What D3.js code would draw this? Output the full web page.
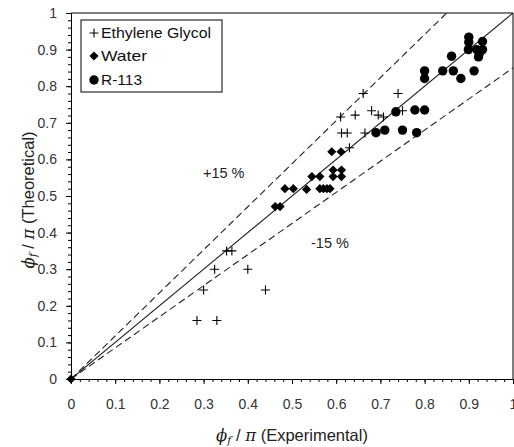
<!DOCTYPE html>
<html>
<head>
<meta charset="utf-8">
<script src="https://cdn.jsdelivr.net/npm/d3@7"></script>
<style>
  body { margin: 0; background: #fff; }
  svg { display: block; font-family: "Liberation Sans", Arial, sans-serif; }
</style>
</head>
<body>
<svg id="chart" width="514" height="447"></svg>
<script>
// ---- data ----
const egX = [0.285, 0.33, 0.30, 0.44, 0.325, 0.40, 0.352, 0.364, 0.63, 0.612, 0.625, 0.665, 0.61, 0.643, 0.68, 0.695, 0.707, 0.75, 0.661, 0.74];
const egY = [0.16, 0.16, 0.243, 0.243, 0.30, 0.30, 0.35, 0.35, 0.632, 0.672, 0.672, 0.672, 0.716, 0.721, 0.733, 0.721, 0.716, 0.733, 0.78, 0.78];

const waterX = [0, 0.462, 0.473, 0.484, 0.503, 0.533, 0.545, 0.563, 0.563, 0.571, 0.579, 0.586, 0.593, 0.612, 0.593, 0.612, 0.59, 0.611];
const waterY = [0, 0.471, 0.471, 0.52, 0.52, 0.518, 0.553, 0.553, 0.52, 0.52, 0.52, 0.52, 0.571, 0.571, 0.553, 0.553, 0.621, 0.621];

const r113X = [0.69, 0.71, 0.735, 0.75, 0.778, 0.80, 0.782, 0.80, 0.80, 0.841, 0.865, 0.882, 0.861, 0.912, 0.90, 0.90, 0.931, 0.899, 0.918, 0.931, 0.924, 0.922];
const r113Y = [0.673, 0.68, 0.73, 0.68, 0.735, 0.735, 0.673, 0.821, 0.842, 0.842, 0.842, 0.821, 0.882, 0.842, 0.934, 0.92, 0.922, 0.90, 0.90, 0.90, 0.89, 0.88];

const tickValues = [0, 0.1, 0.2, 0.3, 0.4, 0.5, 0.6, 0.7, 0.8, 0.9, 1];
const refSlopes = [1, 1 / 0.85, 0.85];   // y = x, +15 %, -15 %
const legendLabels = ["Ethylene Glycol", "Water", "R-113"];

// ---- layout ----
const svg = d3.select("#chart");
const L = 71, R = 513, T = 13, B = 379;
const x = d3.scaleLinear().domain([0, 1]).range([L, R]);
const y = d3.scaleLinear().domain([0, 1]).range([B, T]);

svg.append("clipPath").attr("id", "clip").append("rect")
  .attr("x", L).attr("y", T).attr("width", R - L).attr("height", B - T);

// reference lines
const lineG = svg.append("g").attr("clip-path", "url(#clip)");
refSlopes.forEach((s, i) => {
  const xe = Math.min(1, 1 / s);
  lineG.append("line")
    .attr("x1", x(0)).attr("y1", y(0))
    .attr("x2", x(xe)).attr("y2", y(xe * s))
    .attr("stroke", "#222")
    .attr("stroke-width", 1.1)
    .attr("stroke-dasharray", i === 0 ? null : "7,4");
});

// frame (top & right)
svg.append("path")
  .attr("d", `M${L},${T}H${R}V${B}`)
  .attr("fill", "none").attr("stroke", "#000").attr("stroke-width", 1);

// minor ticks
const minor = d3.range(0, 1.0001, 0.02);
svg.append("g").attr("transform", `translate(0,${B})`)
  .call(d3.axisBottom(x).tickValues(minor).tickSize(3).tickFormat(""));
svg.append("g").attr("transform", `translate(${L},0)`)
  .call(d3.axisLeft(y).tickValues(minor).tickSize(3).tickFormat(""));

// major ticks + labels
const fmt = d => d === 0 ? "0" : d === 1 ? "1" : d3.format(".1f")(d);
const gx = svg.append("g").attr("transform", `translate(0,${B})`)
  .call(d3.axisBottom(x).tickValues(tickValues).tickSize(5).tickPadding(15).tickFormat(fmt));
const gy = svg.append("g").attr("transform", `translate(${L},0)`)
  .call(d3.axisLeft(y).tickValues(tickValues).tickSize(5).tickPadding(9).tickFormat(fmt));
[gx, gy].forEach(g => {
  g.selectAll("text").attr("font-size", 14).attr("fill", "#333")
    .attr("font-family", "'Liberation Sans', Arial, sans-serif");
  g.select(".domain").attr("stroke", "#000");
});
svg.selectAll(".tick line").attr("stroke", "#000");

// markers
const plusPath = (s) => `M${-s},0H${s}M0,${-s}V${s}`;
const ptsG = svg.append("g");
const eg = egX.map((v, i) => [v, egY[i]]);
const wa = waterX.map((v, i) => [v, waterY[i]]);
const rr = r113X.map((v, i) => [v, r113Y[i]]);

ptsG.selectAll(".eg").data(eg).join("path")
  .attr("transform", d => `translate(${x(d[0])},${y(d[1])})`)
  .attr("d", plusPath(4.5)).attr("stroke", "#000").attr("stroke-width", 1.1).attr("fill", "none");

const diamond = d3.symbol().type(d3.symbolSquare).size(42)();
ptsG.selectAll(".wa").data(wa).join("path")
  .attr("transform", d => `translate(${x(d[0])},${y(d[1])}) rotate(45)`)
  .attr("d", diamond).attr("fill", "#000");

ptsG.selectAll(".rr").data(rr).join("circle")
  .attr("cx", d => x(d[0])).attr("cy", d => y(d[1])).attr("r", 4.7).attr("fill", "#000");

// percent labels
svg.append("text").attr("x", 203).attr("y", 178).attr("font-size", 14.5).attr("fill", "#222").text("+15 %");
svg.append("text").attr("x", 311).attr("y", 248).attr("font-size", 14.5).attr("fill", "#222").text("-15 %");

// legend
const lg = svg.append("g");
lg.append("rect").attr("x", 81).attr("y", 20).attr("width", 141).attr("height", 72)
  .attr("fill", "#fff").attr("stroke", "#000").attr("stroke-width", 1);
const ly = [33, 56, 80];
lg.append("path").attr("transform", `translate(94,${ly[0]})`).attr("d", plusPath(4.5))
  .attr("stroke", "#000").attr("stroke-width", 1.1);
lg.append("path").attr("transform", `translate(94,${ly[1]}) rotate(45)`).attr("d", diamond).attr("fill", "#000");
lg.append("circle").attr("cx", 94).attr("cy", ly[2]).attr("r", 4.7).attr("fill", "#000");
const legLen = [110, 46, 41];
legendLabels.forEach((t, i) => {
  lg.append("text").attr("x", 101).attr("y", ly[i] + 5).attr("font-size", 14.5).attr("fill", "#111")
    .attr("textLength", legLen[i]).attr("lengthAdjust", "spacingAndGlyphs").text(t);
});

// axis titles
function axisTitle(g, word) {
  const t = g.append("text").attr("font-size", 16.5).attr("fill", "#222").attr("text-anchor", "middle");
  t.append("tspan").attr("font-family", "'DejaVu Serif', serif").attr("font-style", "italic").text("ϕ");
  t.append("tspan").attr("font-family", "'DejaVu Serif', serif").attr("font-style", "italic")
    .attr("font-size", 11).attr("dy", 3).text("f");
  t.append("tspan").attr("dy", -3).text(" / ");
  t.append("tspan").attr("font-family", "'DejaVu Serif', serif").attr("font-style", "italic").text("π");
  t.append("tspan").text(" (" + word + ")");
  return t;
}
axisTitle(svg.append("g").attr("transform", "translate(292,441)"), "Experimental");
axisTitle(svg.append("g").attr("transform", "translate(34,200) rotate(-90)"), "Theoretical");
</script>
</body>
</html>
